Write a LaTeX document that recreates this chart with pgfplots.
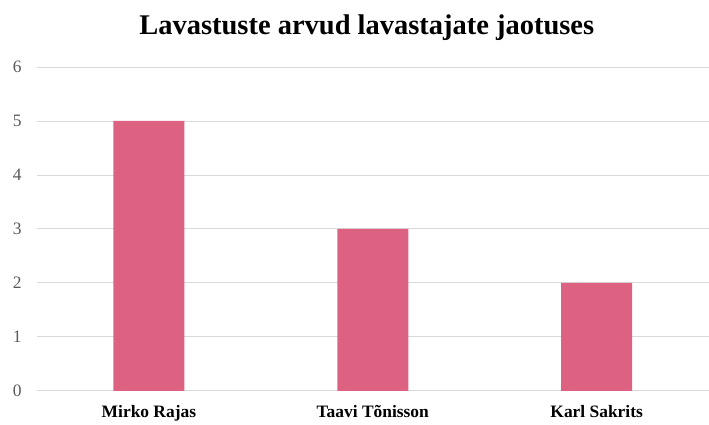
\documentclass[border=0pt]{standalone}
\usepackage{pgfplots}
\pgfplotsset{compat=1.18}
\usepackage{fontspec}
\setmainfont{Liberation Serif}
\definecolor{barpink}{RGB}{221,98,130}
\definecolor{gridgray}{RGB}{217,217,217}
\definecolor{ticklab}{RGB}{89,89,89}
\begin{document}
\begin{tikzpicture}
\begin{axis}[
  scale only axis,
  width=672bp, height=324bp,
  xmin=-0.5, xmax=2.5,
  ymin=0, ymax=6,
  ytick={0,1,2,3,4,5,6},
  xtick=data,
  xticklabels={Mirko Rajas,Taavi Tõnisson,Karl Sakrits},
  axis line style={draw=none},
  major tick length=0pt,
  ymajorgrids,
  grid style={gridgray, line width=0.8bp},
  yticklabel style={font=\fontsize{17.5}{20}\selectfont, text=ticklab, xshift=-12bp},
  xticklabel style={font=\bfseries\fontsize{17.5}{20}\selectfont, yshift=-11bp},
  /pgf/number format/assume math mode=true,
]
\addplot[ybar, bar width=71bp, fill=barpink, draw=none] coordinates {(0,5) (1,3) (2,2)};
\end{axis}
\node[font=\bfseries\fontsize{28.6}{32}\selectfont] at (330bp,363bp) {Lavastuste arvud lavastajate jaotuses};
\path[use as bounding box] (-37bp,-30bp) rectangle (672bp,391bp);
\end{tikzpicture}
\end{document}
